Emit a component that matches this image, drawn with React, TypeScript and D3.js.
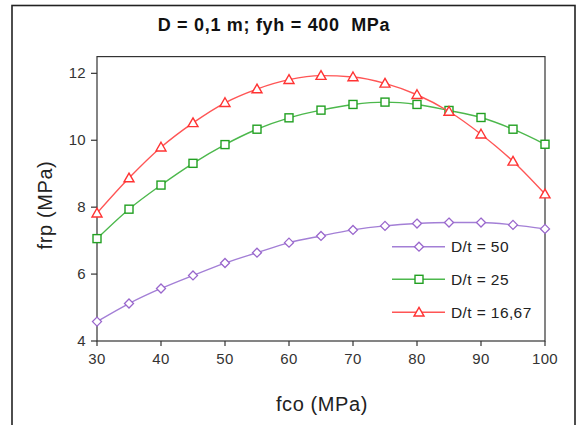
import React from "react";
import * as d3 from "d3";

const fco = [30, 35, 40, 45, 50, 55, 60, 65, 70, 75, 80, 85, 90, 95, 100];
const dt50 = [4.58, 5.12, 5.57, 5.96, 6.33, 6.64, 6.94, 7.14, 7.32, 7.44, 7.51, 7.54, 7.54, 7.47, 7.35];
const dt25 = [7.06, 7.94, 8.66, 9.31, 9.87, 10.33, 10.67, 10.9, 11.07, 11.14, 11.07, 10.89, 10.68, 10.33, 9.88];
const dt1667 = [7.82, 8.87, 9.79, 10.52, 11.12, 11.53, 11.81, 11.93, 11.89, 11.7, 11.36, 10.86, 10.18, 9.37, 8.39];
const seriesNames = ["D/t = 50", "D/t = 25", "D/t = 16,67"];
const xTicks = [30, 40, 50, 60, 70, 80, 90, 100];
const yTicks = [4, 6, 8, 10, 12];

const colors = ["#9966cc", "#22a022", "#ff3333"];
const lineColors = ["#a37fd6", "#4cb84c", "#ff5555"];
const shapes = ["diamond", "square", "triangle"];

function Marker({ shape, x, y, color }: { shape: string; x: number; y: number; color: string }) {
  if (shape === "diamond") {
    const r = 4.5;
    return <path d={`M${x},${y - r}L${x + r},${y}L${x},${y + r}L${x - r},${y}Z`} fill="white" stroke={color} strokeWidth={1.3} />;
  }
  if (shape === "square") {
    const r = 4;
    return <rect x={x - r} y={y - r} width={2 * r} height={2 * r} fill="white" stroke={color} strokeWidth={1.4} />;
  }
  const r = 5;
  return <path d={`M${x},${y - r}L${x + r},${y + r * 0.75}L${x - r},${y + r * 0.75}Z`} fill="white" stroke={color} strokeWidth={1.4} />;
}

export default function App() {
  const W = 577, H = 425;
  const x = d3.scaleLinear().domain([30, 100]).range([97, 545]);
  const y = d3.scaleLinear().domain([4, 12.5]).range([341, 56.6]);
  const data = [dt50, dt25, dt1667];
  const line = d3
    .line<number>()
    .x((_, i) => x(fco[i]))
    .y((d) => y(d))
    .curve(d3.curveMonotoneX);
  const font = "'Liberation Sans', Arial, sans-serif";
  const legendY = [246.7, 279.3, 312.3];
  return (
    <svg width={W} height={H} style={{ position: "absolute", left: 0, top: 0, background: "white" }} fontFamily={font}>
      <rect x={0} y={0} width={W} height={H} fill="white" />
      <rect x={12} y={5.5} width={563} height={440} fill="none" stroke="#222" strokeWidth={1.6} />
      <text x={274} y={31} textAnchor="middle" fontSize={18} fontWeight="bold" fill="#111" letterSpacing={0.7} style={{ whiteSpace: "pre" }}>
        {"D = 0,1 m; fyh = 400  MPa"}
      </text>
      <rect x={97} y={56.6} width={448} height={284.4} fill="none" stroke="#333" strokeWidth={1.2} />
      {yTicks.map((t) => (
        <g key={t}>
          <line x1={91} x2={97} y1={y(t)} y2={y(t)} stroke="#333" strokeWidth={1.2} />
          <text x={86} y={y(t) + 5} textAnchor="end" fontSize={15} fill="#333" letterSpacing={0.3}>
            {t}
          </text>
        </g>
      ))}
      {xTicks.map((t) => (
        <g key={t}>
          <line x1={x(t)} x2={x(t)} y1={341} y2={346} stroke="#333" strokeWidth={1.2} />
          <text x={x(t)} y={364} textAnchor="middle" fontSize={15} fill="#333" letterSpacing={0.3}>
            {t}
          </text>
        </g>
      ))}
      <text x={322} y={411} textAnchor="middle" fontSize={20} fill="#222" letterSpacing={0.6}>
        fco (MPa)
      </text>
      <text transform="translate(52,205) rotate(-90)" textAnchor="middle" fontSize={20} fill="#222" letterSpacing={0.6}>
        frp (MPa)
      </text>
      {data.map((s, k) => (
        <g key={k}>
          <path d={line(s) || ""} fill="none" stroke={lineColors[k]} strokeWidth={1.4} />
          {s.map((v, i) => (
            <Marker key={i} shape={shapes[k]} x={x(fco[i])} y={y(v)} color={colors[k]} />
          ))}
        </g>
      ))}
      {seriesNames.map((n, k) => (
        <g key={n}>
          <line x1={392} x2={445} y1={legendY[k]} y2={legendY[k]} stroke={lineColors[k]} strokeWidth={1.4} />
          <Marker shape={shapes[k]} x={419} y={legendY[k]} color={colors[k]} />
          <text x={451} y={legendY[k] + 5.5} fontSize={15.5} fill="#222" letterSpacing={0.4}>
            {n}
          </text>
        </g>
      ))}
    </svg>
  );
}
